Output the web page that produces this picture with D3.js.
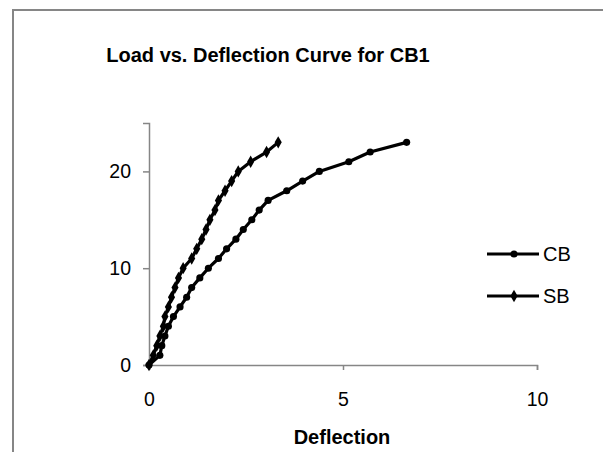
<!DOCTYPE html>
<html>
<head>
<meta charset="utf-8">
<script src="https://cdn.jsdelivr.net/npm/d3@7"></script>
<style>
  html, body { margin: 0; padding: 0; background: #fff; }
  svg { display: block; font-family: "Liberation Sans", Arial, sans-serif; }
</style>
</head>
<body>
<svg id="chart" width="603" height="452"></svg>
<script>
// Load (kN) against deflection (mm) for beam CB1
const cbDeflection = [0, 0.28, 0.33, 0.41, 0.5, 0.63, 0.8, 0.97, 1.1, 1.31, 1.53, 1.79, 2.0, 2.24, 2.43, 2.65, 2.84, 3.07, 3.55, 3.96, 4.39, 5.15, 5.7, 6.64];
const cbLoad       = [0, 1, 2, 3, 4, 5, 6, 7, 8, 9, 10, 11, 12, 13, 14, 15, 16, 17, 18, 19, 20, 21, 22, 23];
const sbDeflection = [0, 0.11, 0.2, 0.28, 0.37, 0.41, 0.5, 0.58, 0.67, 0.76, 0.88, 1.1, 1.23, 1.36, 1.47, 1.57, 1.7, 1.79, 1.96, 2.13, 2.3, 2.62, 3.03, 3.33];
const sbLoad       = [0, 1, 2, 3, 4, 5, 6, 7, 8, 9, 10, 11, 12, 13, 14, 15, 16, 17, 18, 19, 20, 21, 22, 23];
const xTicks = [0, 5, 10];
const yTicks = [0, 10, 20];
const seriesNames = ["CB", "SB"];

const FONT = "'Liberation Sans', Arial, sans-serif";
const svg = d3.select("#chart");

// outer chart frame
svg.append("rect")
  .attr("x", 13).attr("y", 10)
  .attr("width", 640).attr("height", 480)
  .attr("fill", "none").attr("stroke", "#868686").attr("stroke-width", 2);

const x = d3.scaleLinear().domain([0, 10]).range([149, 537]);
const y = d3.scaleLinear().domain([0, 25]).range([365, 123]);

// axes
const xAxis = svg.append("g").attr("transform", `translate(0,${y(0)})`)
  .call(d3.axisBottom(x).tickValues(xTicks).tickSize(5).tickPadding(22).tickFormat(d3.format("d")));
const yAxis = svg.append("g").attr("transform", `translate(${x(0)},0)`)
  .call(d3.axisLeft(y).tickValues(yTicks).tickSize(6).tickPadding(12).tickFormat(d3.format("d")));
[xAxis, yAxis].forEach(g => {
  g.select(".domain").attr("stroke", "#868686").attr("stroke-width", 1.5);
  g.selectAll(".tick line").attr("stroke", "#868686").attr("stroke-width", 1.5);
  g.selectAll(".tick text").attr("fill", "#000").attr("font-size", 19.5)
    .attr("font-family", FONT);
});

const series = [
  { name: seriesNames[0], xs: cbDeflection, ys: cbLoad, marker: d3.symbolCircle, size: 40 },
  { name: seriesNames[1], xs: sbDeflection, ys: sbLoad, marker: d3.symbolDiamond, size: 44 }
];

const line = d3.line().x(d => x(d[0])).y(d => y(d[1]));

series.forEach(s => {
  const pts = s.xs.map((v, i) => [v, s.ys[i]]);
  svg.append("path").datum(pts)
    .attr("d", line).attr("fill", "none")
    .attr("stroke", "#000").attr("stroke-width", 3.2).attr("stroke-linejoin", "round");
  svg.append("g").selectAll("path").data(pts).join("path")
    .attr("transform", d => `translate(${x(d[0])},${y(d[1])})`)
    .attr("d", d3.symbol().type(s.marker).size(s.size))
    .attr("fill", "#000");
});

// legend
const legend = svg.append("g");
series.forEach((s, i) => {
  const ly = 254 + i * 42;
  legend.append("line").attr("x1", 487).attr("x2", 539).attr("y1", ly).attr("y2", ly)
    .attr("stroke", "#000").attr("stroke-width", 3);
  legend.append("path").attr("transform", `translate(514,${ly})`)
    .attr("d", d3.symbol().type(s.marker).size(s.size)).attr("fill", "#000");
  legend.append("text").attr("x", 543).attr("y", ly).attr("dy", "0.36em")
    .attr("font-size", 20).text(s.name);
});

// titles
svg.append("text").attr("x", 268).attr("y", 62).attr("text-anchor", "middle")
  .attr("font-size", 20).attr("font-weight", "bold").text("Load vs. Deflection Curve for CB1");
svg.append("text").attr("x", 342).attr("y", 444).attr("text-anchor", "middle")
  .attr("font-size", 20).attr("font-weight", "bold").text("Deflection");
</script>
</body>
</html>
